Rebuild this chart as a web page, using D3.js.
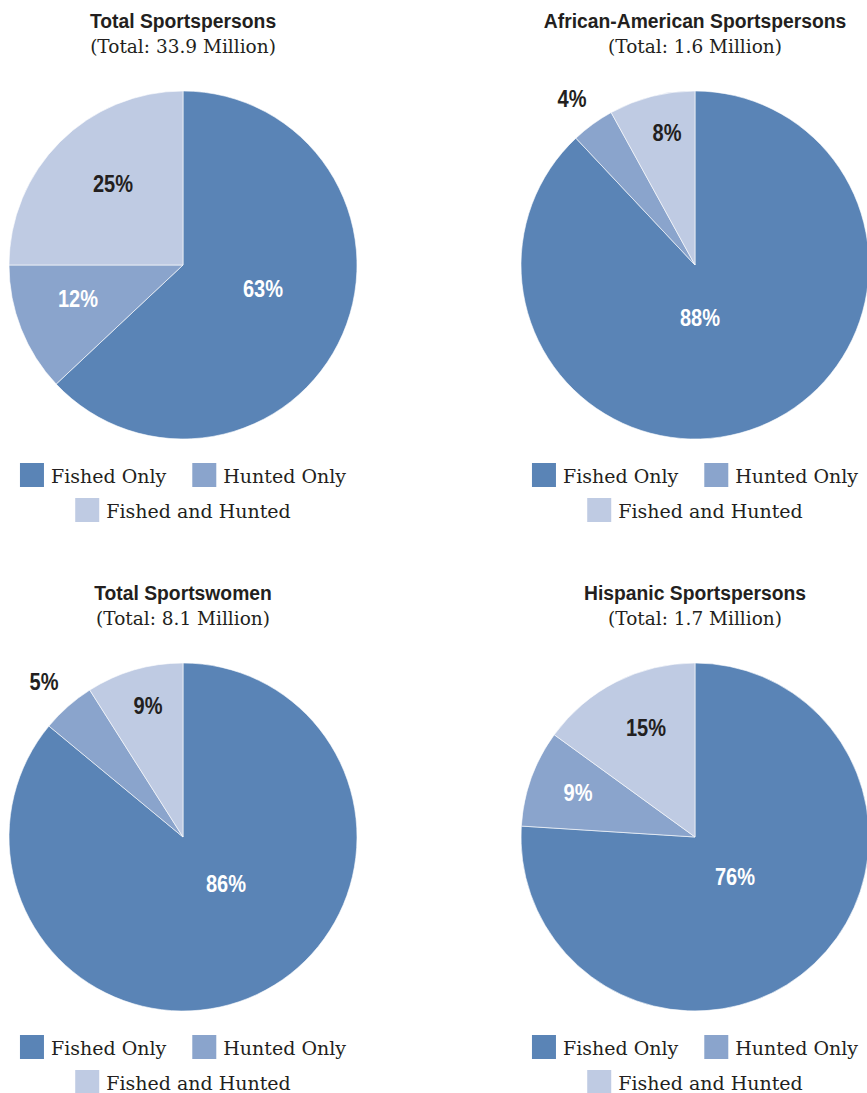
<!DOCTYPE html>
<html>
<head>
<meta charset="utf-8">
<script src="https://cdn.jsdelivr.net/npm/d3@7"></script>
<style>
  body { margin: 0; background: #fff; }
  .title { font-family: "Liberation Sans Narrow", "Arial Narrow", "Liberation Sans", sans-serif; font-weight: bold; font-size: 21px; fill: #231f20; }
  .subtitle { font-family: "DejaVu Serif", "Liberation Serif", serif; font-size: 18.5px; fill: #231f20; }
  .pct { font-family: "Liberation Sans Narrow", "Arial Narrow", "Liberation Sans", sans-serif; font-weight: bold; font-size: 23px; }
  .legend-text { font-family: "DejaVu Serif", "Liberation Serif", serif; font-size: 19px; fill: #231f20; }
</style>
</head>
<body>
<div id="chart"></div>
<script>
var categories = ["Fished Only", "Hunted Only", "Fished and Hunted"];
var chartTitles = ["Total Sportspersons", "African-American Sportspersons", "Total Sportswomen", "Hispanic Sportspersons"];
var chartTotals = ["33.9", "1.6", "8.1", "1.7"];
var totalValues = [63, 12, 25];
var africanAmericanValues = [88, 4, 8];
var womenValues = [86, 5, 9];
var hispanicValues = [76, 9, 15];
var colors = ["#5a84b6", "#8aa4cc", "#bfcbe3"];

var allValues = [totalValues, africanAmericanValues, womenValues, hispanicValues];

// label placement relative to pie centre (layout only)
var labelOffsets = [
  [[80, 24], [-105, 34], [-70, -81]],
  [[5, 53], [-123, -166], [-28, -132]],
  [[43, 47], [-139, -155], [-35, -131]],
  [[40, 40], [-117, -44], [-49, -109]]
];
// which labels sit outside the pie
var outsideLabel = [[false, false, false], [false, true, false], [false, true, false], [false, false, false]];

var width = 867, height = 1093;
var radius = 174;
var panelX = [183, 695], panelY = [0, 572];
var narrow = 0.92; // squeeze sans text to look condensed

var svg = d3.select("#chart").append("svg")
  .attr("width", width)
  .attr("height", height);

var color = d3.scaleOrdinal().domain(categories).range(colors);
var pie = d3.pie().sort(null).value(function(d) { return d.value; });
var arc = d3.arc().innerRadius(0).outerRadius(radius);

allValues.forEach(function(vals, i) {
  var cx = panelX[i % 2], top = panelY[Math.floor(i / 2)];
  var g = svg.append("g").attr("transform", "translate(" + cx + "," + top + ")");

  g.append("text").attr("class", "title")
    .attr("transform", "translate(0,28) scale(" + narrow + ",1)")
    .attr("text-anchor", "middle")
    .text(chartTitles[i]);
  g.append("text").attr("class", "subtitle")
    .attr("x", 0).attr("y", 53)
    .attr("text-anchor", "middle")
    .text("(Total: " + chartTotals[i] + " Million)");

  var data = vals.map(function(v, j) { return {cat: categories[j], value: v, idx: j}; });
  var pieG = g.append("g").attr("transform", "translate(0," + 265 + ")");

  pieG.selectAll("path")
    .data(pie(data))
    .enter()
    .append("path")
    .attr("d", arc)
    .attr("fill", function(d) { return color(d.data.cat); })
    .attr("stroke", "#fff")
    .attr("stroke-width", 0.6);

  pieG.selectAll("text")
    .data(pie(data))
    .enter()
    .append("text")
    .attr("class", "pct")
    .attr("transform", function(d) {
      var o = labelOffsets[i][d.data.idx];
      return "translate(" + o[0] + "," + o[1] + ") scale(0.87,1)";
    })
    .attr("text-anchor", "middle")
    .attr("dominant-baseline", "central")
    .attr("fill", function(d) {
      if (outsideLabel[i][d.data.idx] || d.data.idx == 2) return "#231f20";
      return "#fff";
    })
    .text(function(d) { return d.data.value + "%"; });

  // legend, two rows, each centred under the pie
  var rows = [[0, 1], [2]];
  rows.forEach(function(row, r) {
    var rowG = g.append("g");
    var x = 0;
    row.forEach(function(k, n) {
      if (n > 0) x += 26;
      rowG.append("rect")
        .attr("x", x).attr("y", 0)
        .attr("width", 24).attr("height", 24)
        .attr("fill", colors[k]);
      var t = rowG.append("text").attr("class", "legend-text")
        .attr("x", x + 31).attr("y", 20)
        .text(categories[k]);
      x += 31 + t.node().getComputedTextLength();
    });
    rowG.attr("transform", "translate(" + (-x / 2) + "," + (463 + r * 35) + ")");
  });
});
</script>
</body>
</html>
